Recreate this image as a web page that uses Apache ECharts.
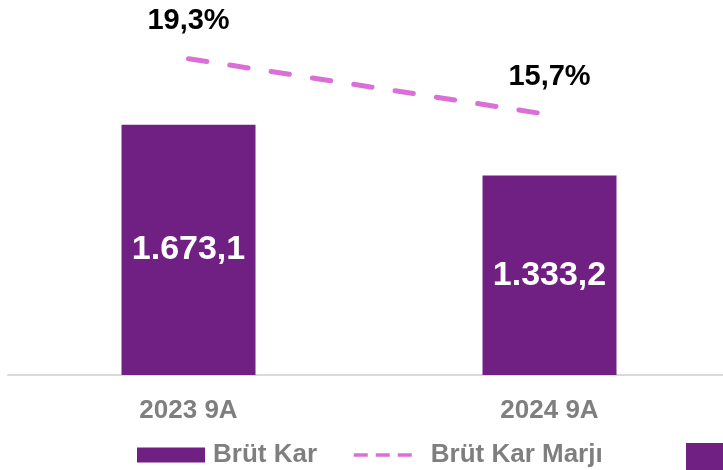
<!DOCTYPE html>
<html>
<head>
<meta charset="utf-8">
<script src="https://cdn.jsdelivr.net/npm/echarts@6/dist/echarts.min.js"></script>
<style>
html,body{margin:0;padding:0;background:#fff;}
#chart{width:723px;height:470px;}
</style>
</head>
<body>
<div id="chart"></div>
<script>
const categories = ['2023 9A', '2024 9A'];
const brutKar = [1673.1, 1333.2];
const brutKarMarji = [19.3, 15.7];
const seriesNames = ['Brüt Kar', 'Brüt Kar Marjı'];

function trNum(v, dec) {
  const parts = v.toFixed(dec).split('.');
  parts[0] = parts[0].replace(/\B(?=(\d{3})+(?!\d))/g, '.');
  return parts.join(',');
}

const FONT = '"Liberation Sans", Arial, sans-serif';
const chart = echarts.init(document.getElementById('chart'), null, {renderer: 'canvas'});
chart.setOption({
  animation: false,
  backgroundColor: '#ffffff',
  grid: {left: 8, top: 1, width: 722, bottom: 95, containLabel: false, outerBoundsMode: 'none'},
  xAxis: {
    type: 'category',
    data: categories,
    boundaryGap: true,
    axisLine: {show: true, lineStyle: {color: '#D9D9D9', width: 2}},
    axisTick: {show: false},
    axisLabel: {
      color: '#7F7F7F', fontSize: 26, fontWeight: 'bold', fontFamily: FONT,
      margin: 23, interval: 0
    },
    splitLine: {show: false}
  },
  yAxis: [
    {type: 'value', min: 0, max: 2500, show: false, splitLine: {show: false}},
    {type: 'value', min: -1, max: 23, show: false, splitLine: {show: false}}
  ],
  legend: [
    {
      data: [seriesNames[0]],
      left: 137, top: 442, padding: 0,
      itemWidth: 68, itemHeight: 15,
      icon: 'rect',
      textStyle: {color: '#7F7F7F', fontSize: 26, fontWeight: 'bold', fontFamily: FONT, padding: [0, 0, 0, 3]}
    },
    {
      data: [seriesNames[1]],
      left: 352, top: 442, padding: 0,
      itemWidth: 59, itemHeight: 15,
      itemStyle: {opacity: 0},
      lineStyle: {type: [14, 8], width: 3.5, cap: 'butt'},
      textStyle: {color: '#7F7F7F', fontSize: 26, fontWeight: 'bold', fontFamily: FONT, padding: [0, 0, 0, 13]}
    }
  ],
  graphic: [
    {type: 'rect', left: 686, top: 443, shape: {width: 40, height: 30}, style: {fill: '#702082'}, silent: true}
  ],
  series: [
    {
      name: seriesNames[0],
      type: 'bar',
      data: brutKar,
      barWidth: 134,
      itemStyle: {color: '#702082'},
      label: {
        show: true, position: 'inside', color: '#ffffff',
        fontSize: 34, fontWeight: 'bold', fontFamily: FONT,
        formatter: p => trNum(p.value, 1)
      }
    },
    {
      name: seriesNames[1],
      type: 'line',
      yAxisIndex: 1,
      data: brutKarMarji,
      symbol: 'circle',
      symbolSize: 0,
      showSymbol: true,
      lineStyle: {color: '#DA70D6', width: 5, type: [18.5, 23.3], cap: 'round'},
      itemStyle: {color: '#DA70D6'},
      label: {
        show: true, position: 'top', distance: 23, color: '#000000',
        fontSize: 29, fontWeight: 'bold', fontFamily: FONT,
        formatter: p => trNum(p.value, 1) + '%'
      }
    }
  ]
});
</script>
</body>
</html>
